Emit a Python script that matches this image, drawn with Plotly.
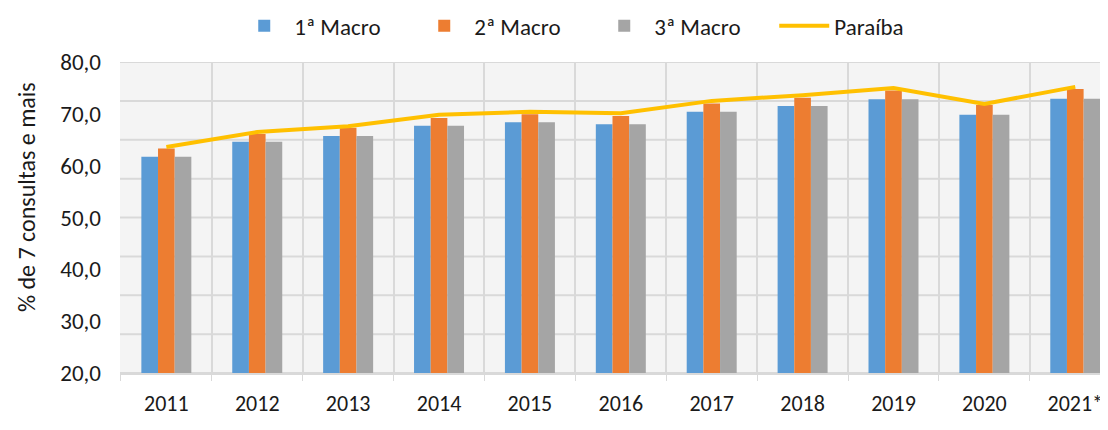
import plotly.graph_objects as go

years = ["2011", "2012", "2013", "2014", "2015", "2016", "2017", "2018", "2019", "2020", "2021*"]
macro1 = [61.7, 64.6, 65.7, 67.7, 68.4, 68.0, 70.4, 71.5, 72.8, 69.8, 72.9]
macro2 = [63.3, 66.1, 67.3, 69.2, 69.9, 69.6, 72.0, 73.1, 74.5, 71.7, 74.8]
macro3 = [61.7, 64.6, 65.7, 67.7, 68.4, 68.0, 70.4, 71.5, 72.8, 69.8, 72.9]
paraiba = [63.6, 66.5, 67.6, 69.8, 70.4, 70.1, 72.5, 73.6, 75.0, 71.9, 75.2]
y_ticks = [20, 30, 40, 50, 60, 70, 80]
grid_levels = [20 + 7.5 * k for k in range(9)]

FONT = "Carlito, Liberation Sans, Arial, sans-serif"
GRID = "#d9d9d9"
FS = 23

fig = go.Figure()
fig.add_trace(go.Bar(x=years, y=macro1, name="1ª Macro", marker=dict(color="#5B9BD5", line=dict(width=0))))
fig.add_trace(go.Bar(x=years, y=macro2, name="2ª Macro", marker=dict(color="#ED7D31", line=dict(width=0))))
fig.add_trace(go.Bar(x=years, y=macro3, name="3ª Macro", marker=dict(color="#A5A5A5", line=dict(width=0))))
fig.add_trace(go.Scatter(x=years, y=paraiba, name="Paraíba", mode="lines",
                         line=dict(color="#FFC000", width=4)))

for g in grid_levels:
    fig.add_shape(type="line", xref="paper", yref="y", x0=0, x1=1, y0=g, y1=g,
                  line=dict(color=GRID, width=2), layer="below")

fig.update_layout(
    width=1100, height=422,
    margin=dict(l=112, r=0, t=54, b=57, autoexpand=False),
    paper_bgcolor="white",
    plot_bgcolor="#f4f4f4",
    barmode="group",
    bargap=0.45,
    bargroupgap=0,
    font=dict(family=FONT, size=FS, color="#1a1a1a"),
    legend=dict(orientation="h", x=0.480, xanchor="center", y=1.116, yanchor="middle",
                font=dict(size=FS), itemwidth=50, entrywidth=115, entrywidthmode="pixels",
                traceorder="normal", bgcolor="rgba(0,0,0,0)"),
    xaxis=dict(range=[-0.51, 10.36], showgrid=True, gridcolor=GRID, gridwidth=2,
               tickson="boundaries", ticks="outside", ticklen=6, tickcolor=GRID,
               showline=True, linecolor=GRID, linewidth=2, ticklabelstandoff=10,
               tickfont=dict(size=22), zeroline=False),
    yaxis=dict(range=[20, 80], tickvals=y_ticks, tickformat=".1f", showgrid=False,
               zeroline=False, showline=False, ticklabelstandoff=18,
               tickfont=dict(size=FS)),
    separators=",.",
    showlegend=True,
)

fig.add_annotation(text="% de 7 consultas e mais", xref="paper", yref="paper",
                   x=-0.094, y=0.566, textangle=-90, showarrow=False,
                   font=dict(size=24), xanchor="center", yanchor="middle")

fig.write_html("out.html")
